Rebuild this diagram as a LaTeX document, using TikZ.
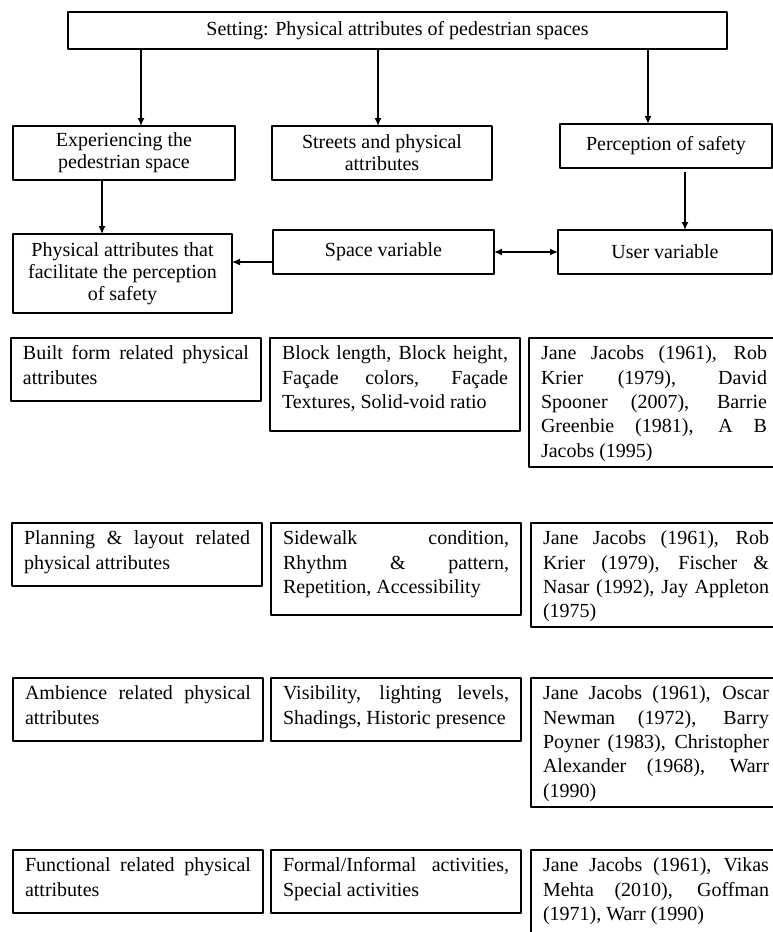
\documentclass[tikz,border=0pt]{standalone}
\usepackage{fontspec}
\setmainfont{Liberation Serif}
\usetikzlibrary{arrows.meta}
\tikzset{
  box/.style 2 args={draw, line width=1.3pt, outer sep=0pt, inner sep=2pt, anchor=north west,
    align=center, minimum width=#1, minimum height=#2, font=\fontsize{20}{22}\selectfont},
  cell/.style={draw, line width=1.3pt, outer sep=0pt, anchor=north west, align=justify,
    text width=226pt, inner xsep=12pt, inner ysep=5pt, font=\fontsize{20}{24.3}\selectfont,
    text height=16.8pt, text depth={#1-26.8pt}},
}
\begin{document}
\begin{tikzpicture}[x=1pt, y=-1pt, line join=round, >={Latex[length=8pt,width=7pt]}]
	\useasboundingbox (0,0) rectangle (773,932);
	\clip (0,0) rectangle (773,932);
	% Upper part of the framework
	\node[box={659pt}{37pt}] (set) at (68,12) {Setting: Physical attributes of pedestrian spaces};
	\node[box={222pt}{54pt}] (exp) at (13,126) {Experiencing the\\pedestrian space};
	\node[box={220pt}{54pt}] (str) at (272,126) {Streets and physical\\attributes};
	\node[box={212pt}{44pt}] (per) at (560,124) {Perception of safety};
	\node[box={219pt}{79pt}] (phy) at (13,234) {Physical attributes that\\facilitate the perception\\of safety};
	\node[box={221pt}{44pt}] (spc) at (273,230) {Space variable};
	\node[box={214pt}{44pt}] (usr) at (558,230) {User variable};
	\draw[->, line width=1.3pt] ([xshift=17pt]exp.north |- set.south) -- ([xshift=17pt]exp.north);
	\draw[->, line width=1.3pt] ([xshift=-4pt]str.north |- set.south) -- ([xshift=-4pt]str.north);
	\draw[->, line width=1.3pt] ([xshift=-18pt]per.north |- set.south) -- ([xshift=-18pt]per.north);
	\draw[->, line width=1.3pt] ([xshift=-22pt]exp.south) -- ([xshift=-22pt]exp.south |- phy.north);
	\draw[->, line width=1.3pt, shorten <=4pt] ([xshift=19pt]per.south) -- ([xshift=19pt]per.south |- usr.north);
	\draw[->, line width=1.3pt] ([yshift=-10pt]spc.west) -- ([yshift=-10pt]spc.west -| phy.east);
	\draw[<->, line width=1.3pt] (spc) -- (usr);
	% Built form
	\node[cell=63] (built) at (11,338) {Built form related physical\linebreak attributes};
	\node[cell=93] (builtvar) at (270,338) {Block length, Block height,\linebreak Façade colors, Façade\linebreak Textures, Solid-void ratio};
	\node[cell=129] (builtref) at (529,338) {Jane Jacobs (1961), Rob\linebreak Krier (1979), David\linebreak Spooner (2007), Barrie\linebreak Greenbie (1981), A B\linebreak Jacobs (1995)};
	% Planning and layout
	\node[cell=63] (plan) at (12,523) {Planning \& layout related\linebreak physical attributes};
	\node[cell=92] (planvar) at (271,523) {Sidewalk condition,\linebreak Rhythm \& pattern,\linebreak Repetition, Accessibility};
	\node[cell=104] (planref) at (531,523) {Jane Jacobs (1961), Rob\linebreak Krier (1979), Fischer \&\linebreak Nasar (1992), Jay Appleton\linebreak (1975)};
	% Ambience
	\node[cell=63] (amb) at (13,678) {Ambience related physical\linebreak attributes};
	\node[cell=63] (ambvar) at (271,678) {Visibility, lighting levels,\linebreak Shadings, Historic presence};
	\node[cell=129] (ambref) at (531,678) {Jane Jacobs (1961), Oscar\linebreak Newman (1972), Barry\linebreak Poyner (1983), Christopher\linebreak Alexander (1968), Warr\linebreak (1990)};
	% Functional
	\node[cell=63] (func) at (13,850) {Functional related physical\linebreak attributes};
	\node[cell=63] (funcvar) at (271,850) {Formal/Informal activities,\linebreak Special activities};
	\node[cell=104] (funcref) at (531,850) {Jane Jacobs (1961), Vikas\linebreak Mehta (2010), Goffman\linebreak (1971), Warr (1990)};
\end{tikzpicture}
\end{document}
